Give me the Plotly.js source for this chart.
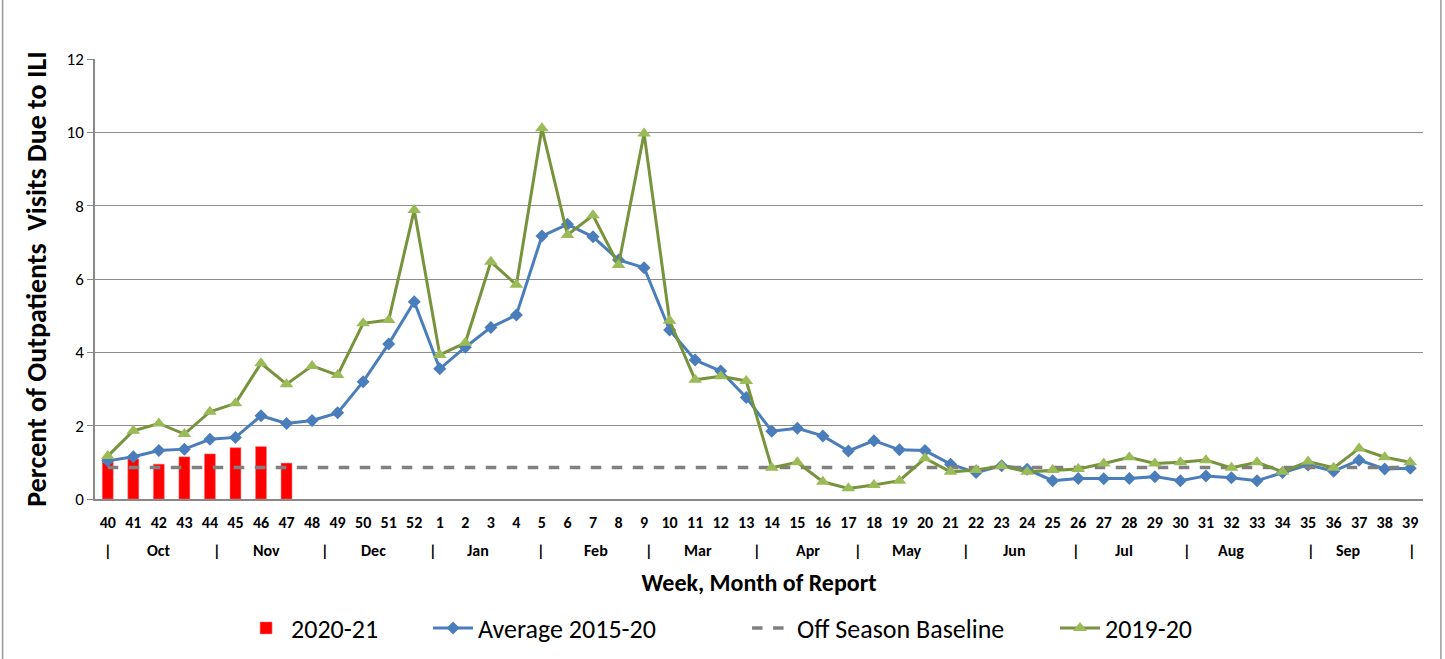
<!DOCTYPE html>
<html>
<head>
<meta charset="utf-8">
<script src="https://cdn.plot.ly/plotly-3.0.1.min.js"></script>
<style>html,body{margin:0;padding:0;background:#fff;}#chart{width:1445px;height:659px;}</style>
</head>
<body>
<div id="chart"></div>
<script>
const weeks = ["40","41","42","43","44","45","46","47","48","49","50","51","52","1","2","3","4","5","6","7","8","9","10","11","12","13","14","15","16","17","18","19","20","21","22","23","24","25","26","27","28","29","30","31","32","33","34","35","36","37","38","39"];
const season2021 = [1.12,1.09,0.95,1.15,1.23,1.40,1.43,0.98];
const avg1520 = [1.04,1.15,1.32,1.36,1.63,1.68,2.27,2.06,2.14,2.35,3.20,4.23,5.38,3.55,4.14,4.68,5.02,7.17,7.49,7.15,6.52,6.31,4.61,3.79,3.49,2.77,1.85,1.93,1.72,1.31,1.59,1.34,1.32,0.95,0.72,0.91,0.81,0.50,0.56,0.55,0.56,0.61,0.50,0.63,0.58,0.50,0.72,0.93,0.76,1.06,0.82,0.84];
const season1920 = [1.17,1.86,2.06,1.77,2.38,2.61,3.70,3.13,3.63,3.38,4.79,4.88,7.88,3.93,4.26,6.47,5.84,10.11,7.20,7.74,6.38,9.97,4.86,3.25,3.35,3.22,0.85,1.00,0.47,0.29,0.38,0.50,1.11,0.74,0.79,0.90,0.74,0.79,0.82,0.97,1.14,0.97,1.00,1.06,0.85,1.00,0.74,1.02,0.85,1.38,1.14,1.00];
const baselineValue = 0.86;
const baseline = weeks.map(() => baselineValue);
const yTicks = [0,2,4,6,8,10,12];
const months = ["Oct","Nov","Dec","Jan","Feb","Mar","Apr","May","Jun","Jul","Aug","Sep"];
const monthPos = [2.0,6.2,10.4,14.5,19.1,23.1,27.4,31.3,35.5,39.8,44.0,48.6];
const sepPos = [0,4.27,8.5,12.73,16.96,21.2,25.42,29.38,33.6,37.9,42.27,47.12,51.08];

const FONT = "Carlito, 'Liberation Sans Narrow', 'Arial Narrow', 'Open Sans', sans-serif";
const LEGFONT = {family:FONT, size:26, color:'#000'};

const traces = [
  {type:'bar', x:weeks, y:season2021, name:'2020-21', legend:'legend',
   marker:{color:'#FF0000', line:{color:'#FF8080', width:0.5}}},
  {type:'scatter', mode:'lines+markers', x:weeks, y:avg1520, name:'Average 2015-20', legend:'legend2',
   line:{color:'#4A7EBB', width:3}, marker:{symbol:'diamond', size:10, color:'#4A7EBB'}},
  {type:'scatter', mode:'lines', x:weeks, y:baseline, name:'Off Season Baseline', legend:'legend3',
   line:{color:'#808080', width:3.5, dash:'dash'}},
  {type:'scatter', mode:'lines+markers', x:weeks, y:season1920, name:'2019-20', legend:'legend4',
   line:{color:'#77933C', width:3}, marker:{symbol:'triangle-up', size:12, color:'#9BBB59'}}
];

const annotations = [];
months.forEach((m,i) => annotations.push({xref:'x', yref:'paper', x:monthPos[i], y:-0.118, text:'<b>'+m+'</b>',
  showarrow:false, font:{family:FONT, size:16, color:'#000'}, xanchor:'center', yanchor:'middle'}));
sepPos.forEach(p => annotations.push({xref:'x', yref:'paper', x:p, y:-0.118, text:'<b>|</b>',
  showarrow:false, font:{family:FONT, size:16, color:'#000'}, xanchor:'center', yanchor:'middle'}));

function leg(x){ return {orientation:'h', x:x, xanchor:'left', yref:'container', y:0.047, yanchor:'middle', font:LEGFONT, itemwidth:40, bgcolor:'rgba(0,0,0,0)'}; }

const layout = {
  width:1445, height:659,
  margin:{l:95, r:22, t:59, b:160, autoexpand:false},
  paper_bgcolor:'#fff', plot_bgcolor:'#fff',
  bargap:0.57,
  showlegend:true,
  legend:leg(0.1100),
  legend2:leg(0.2508),
  legend3:leg(0.4910),
  legend4:leg(0.7229),
  xaxis:{type:'category', range:[-0.5,51.5], showgrid:false, showline:true, linecolor:'#888', linewidth:1.5, automargin:false,
    ticks:'', tickfont:{family:FONT, size:16, color:'#000', weight:'bold'}, fixedrange:true, ticklabelstandoff:8,
    title:{text:'<b>Week, Month of Report</b>', font:{family:FONT, size:24, color:'#000'}, standoff:43}},
  yaxis:{range:[0,12], tickvals:yTicks, ticktext:yTicks.map(String), showgrid:true, gridcolor:'#8c8c8c', gridwidth:1, automargin:false,
    showline:true, linecolor:'#888', linewidth:1.5, ticks:'outside', ticklen:6, tickcolor:'#888',
    tickfont:{family:FONT, size:17, color:'#000'}, zeroline:false,
    title:{text:'<b>Percent of Outpatients  Visits Due to ILI</b>', font:{family:FONT, size:28, color:'#000'}, standoff:12}},
  annotations:annotations,
  shapes:[
    {type:'line', xref:'paper', yref:'paper', x0:-0.0696, x1:-0.0696, y0:-0.4, y1:1.2, line:{color:'#999', width:1.5}},
    {type:'line', xref:'paper', yref:'paper', x0:1.0135, x1:1.0135, y0:-0.4, y1:1.2, line:{color:'#999', width:1.5}}
  ]
};

Plotly.newPlot('chart', traces, layout, {displayModeBar:false, responsive:false});
</script>
</body>
</html>
